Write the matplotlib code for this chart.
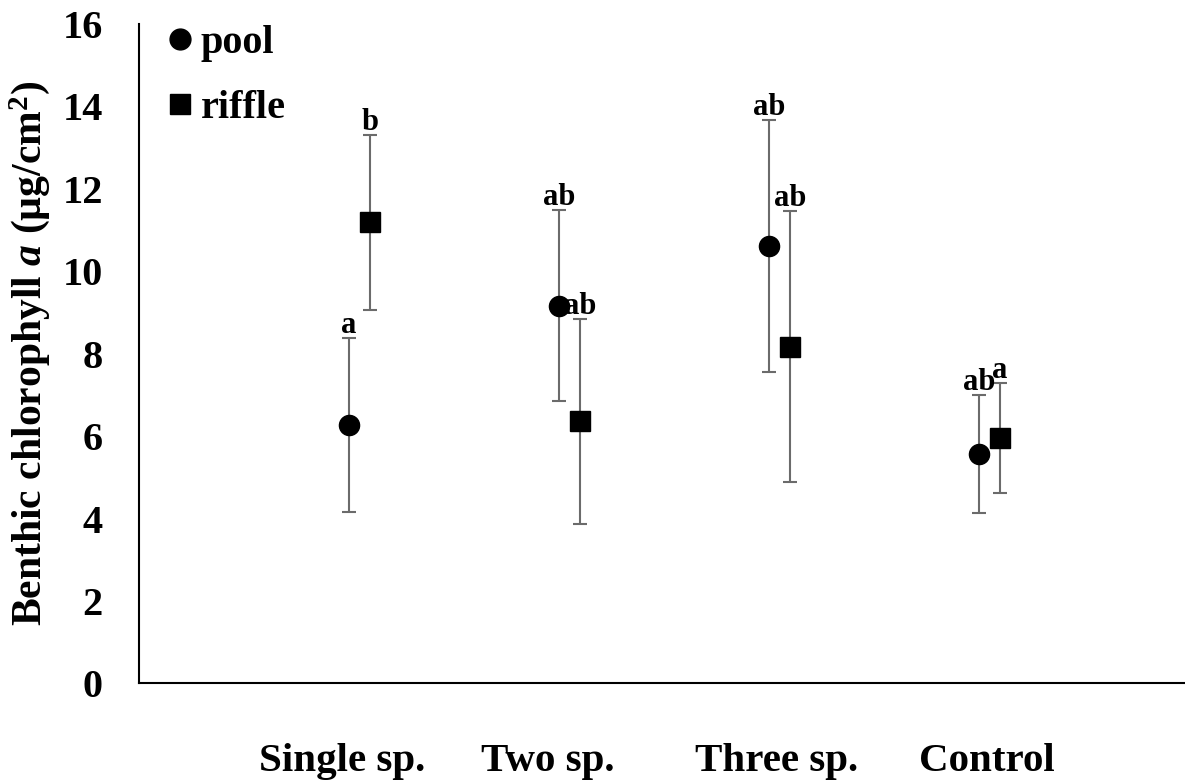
import numpy as np
import matplotlib
matplotlib.use("Agg")
import matplotlib.pyplot as plt
from matplotlib.lines import Line2D

# Benthic chlorophyll a means and error bars per treatment
categories = ["Single sp.", "Two sp.", "Three sp.", "Control"]
pool_mean = [6.27, 9.17, 10.62, 5.57]
pool_err = [2.12, 2.32, 3.06, 1.43]
riffle_mean = [11.19, 6.36, 8.17, 5.96]
riffle_err = [2.12, 2.49, 3.29, 1.33]
pool_letters = ["a", "ab", "ab", "ab"]
riffle_letters = ["b", "ab", "ab", "a"]

plt.rcParams["font.family"] = ["Liberation Serif", "DejaVu Serif"]
plt.rcParams["font.weight"] = "bold"
plt.rcParams["mathtext.fontset"] = "custom"
plt.rcParams["mathtext.rm"] = "Liberation Serif:bold"
plt.rcParams["mathtext.bf"] = "Liberation Serif:bold"
plt.rcParams["mathtext.it"] = "Liberation Serif:italic:bold"

fig = plt.figure(figsize=(11.85, 7.82), dpi=100)
ax = fig.add_axes([0.1173, 0.126, 0.886, 0.8433])

x = np.arange(1, len(categories) + 1)
x_pool = x
x_riffle = x + 0.1
bar_color = "#6b6b6b"

ax.errorbar(x_pool, pool_mean, yerr=pool_err, fmt="o", color="black",
            markersize=14.5, ecolor=bar_color, elinewidth=1.5, capsize=5,
            capthick=1.5, zorder=3)
ax.errorbar(x_riffle, riffle_mean, yerr=riffle_err, fmt="s", color="black",
            markersize=14.5, ecolor=bar_color, elinewidth=1.5, capsize=5,
            capthick=1.5, zorder=3)

# significance letters just above each upper whisker
for xs, means, errs, letters in [(x_pool, pool_mean, pool_err, pool_letters),
                                 (x_riffle, riffle_mean, riffle_err, riffle_letters)]:
    for xi, m, e, lab in zip(xs, means, errs, letters):
        ax.annotate(lab, (xi, m + e), xytext=(0, 3.5), textcoords="offset points",
                    ha="center", va="baseline", fontsize=22, fontweight="bold")

ax.set_xlim(0, 5)
ax.set_ylim(0, 16)
ax.set_yticks(np.arange(0, 17, 2))
ax.tick_params(axis="y", length=0, pad=26, labelsize=29)

# treatment names sit under the axis, slightly left of each pair
ax.set_xticks([0.967, 1.948, 3.038, 4.038], categories)
ax.tick_params(axis="x", length=0, pad=43, labelsize=29.5)

for lab in ax.get_xticklabels() + ax.get_yticklabels():
    lab.set_fontweight("bold")

ax.set_ylabel("Benthic chlorophyll $\\mathit{a}$ (µg/cm$^{\\mathbf{2}}$)",
              fontsize=30, fontweight="bold")
ax.yaxis.set_label_coords(-0.083, 0.501)

for side in ["top", "right"]:
    ax.spines[side].set_visible(False)
for side in ["left", "bottom"]:
    ax.spines[side].set_linewidth(1.5)

# legend shows the markers only, without whiskers
handles = [
    Line2D([], [], marker="o", color="black", linestyle="none", markersize=15),
    Line2D([], [], marker="s", color="black", linestyle="none", markersize=15),
]
ax.legend(handles, ["pool", "riffle"], loc="upper left",
          bbox_to_anchor=(0.028, 0.999), frameon=False,
          handlelength=0.6, handletextpad=0.2, labelspacing=0.69,
          borderpad=0, borderaxespad=0, prop={"weight": "bold", "size": 29})

fig.savefig("out.png", dpi=100)
